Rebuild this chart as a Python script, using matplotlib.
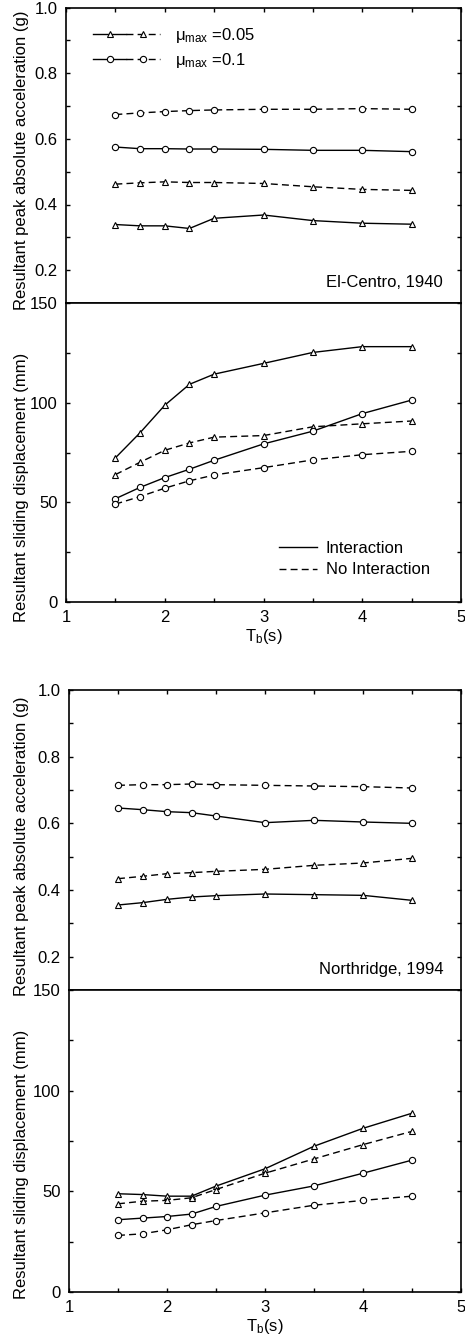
import matplotlib
matplotlib.use("Agg")
import matplotlib.pyplot as plt
from matplotlib.lines import Line2D
from matplotlib.legend_handler import HandlerTuple
from matplotlib.ticker import MultipleLocator

plt.rcParams['font.family'] = ['Liberation Sans', 'DejaVu Sans']
plt.rcParams['mathtext.fontset'] = 'custom'
plt.rcParams['mathtext.rm'] = 'Liberation Sans'
plt.rcParams['mathtext.it'] = 'Liberation Sans:italic'
plt.rcParams['mathtext.bf'] = 'Liberation Sans:bold'

# ---------------- data ----------------
Tb = [1.5, 1.75, 2.0, 2.25, 2.5, 3.0, 3.5, 4.0, 4.5]

# El-Centro 1940 : peak absolute acceleration (g)
ec_acc_tri_int = [0.339, 0.335, 0.335, 0.327, 0.358, 0.368, 0.351, 0.343, 0.340]
ec_acc_tri_noint = [0.462, 0.466, 0.469, 0.467, 0.467, 0.464, 0.454, 0.446, 0.443]
ec_acc_cir_int = [0.575, 0.570, 0.570, 0.569, 0.569, 0.568, 0.565, 0.565, 0.561]
ec_acc_cir_noint = [0.674, 0.679, 0.683, 0.686, 0.688, 0.690, 0.690, 0.692, 0.690]

# El-Centro 1940 : sliding displacement (mm)
ec_dis_tri_int = [72.3, 84.9, 98.7, 109.2, 114.3, 119.7, 125.2, 128.1, 128.1]
ec_dis_tri_noint = [63.9, 70.1, 76.1, 79.8, 82.7, 83.5, 87.9, 89.4, 90.8]
ec_dis_cir_int = [51.8, 57.5, 62.4, 66.6, 71.1, 79.3, 85.7, 94.5, 101.3]
ec_dis_cir_noint = [49.1, 52.9, 57.1, 60.8, 63.7, 67.4, 71.3, 73.9, 75.6]

# Northridge 1994 : peak absolute acceleration (g)
nr_acc_tri_int = [0.355, 0.362, 0.372, 0.379, 0.383, 0.388, 0.386, 0.384, 0.369]
nr_acc_tri_noint = [0.434, 0.441, 0.449, 0.452, 0.456, 0.462, 0.474, 0.481, 0.495]
nr_acc_cir_int = [0.646, 0.641, 0.635, 0.632, 0.622, 0.602, 0.609, 0.604, 0.600]
nr_acc_cir_noint = [0.714, 0.716, 0.716, 0.718, 0.716, 0.714, 0.712, 0.710, 0.706]

# Northridge 1994 : sliding displacement (mm)
nr_dis_tri_int = [48.8, 48.4, 47.6, 47.6, 52.6, 61.2, 72.4, 81.3, 88.8]
nr_dis_tri_noint = [43.8, 45.1, 45.5, 46.8, 50.9, 59.0, 66.1, 73.2, 79.8]
nr_dis_cir_int = [35.9, 36.7, 37.5, 38.7, 42.5, 48.1, 52.7, 59.0, 65.5]
nr_dis_cir_noint = [28.1, 28.9, 30.9, 33.4, 35.5, 39.3, 43.1, 45.5, 47.6]

acc_ticks = [0.2, 0.4, 0.6, 0.8, 1.0]
acc_labels = ['0.2', '0.4', '0.6', '0.8', '1.0']
dis_ticks = [0, 50, 100, 150]
x_ticks = [1, 2, 3, 4, 5]

# ---------------- figure ----------------
W, H = 465, 1335
fig = plt.figure(figsize=(W / 100, H / 100), dpi=100)


def px_axes(x0, x1, ytop, ybot):
    return fig.add_axes([x0 / W, 1 - ybot / H, (x1 - x0) / W, (ybot - ytop) / H])


FS = 12
SOLID = '-'
DASH = (0, (5, 3))
mk = dict(markersize=4.5, markerfacecolor='white', markeredgecolor='black',
          markeredgewidth=0.8, color='black', linewidth=1.0)


def style(ax, top_panel):
    ax.set_xlim(1, 5)
    ax.xaxis.set_major_locator(MultipleLocator(1))
    ax.xaxis.set_minor_locator(MultipleLocator(0.5))
    for s in ax.spines.values():
        s.set_linewidth(1.2)
    ax.tick_params(which='both', direction='in', length=3, width=1,
                   right=True, left=True,
                   top=top_panel, bottom=not top_panel,
                   labelbottom=not top_panel, labelsize=FS, pad=6)


def draw_acc(ax, tri_int, tri_noint, cir_int, cir_noint, label):
    ax.plot(Tb, tri_int, linestyle=SOLID, marker='^', **mk)
    ax.plot(Tb, tri_noint, linestyle=DASH, marker='^', **mk)
    ax.plot(Tb, cir_int, linestyle=SOLID, marker='o', **mk)
    ax.plot(Tb, cir_noint, linestyle=DASH, marker='o', **mk)
    ax.set_ylim(0.1, 1.0)
    ax.set_yticks(acc_ticks)
    ax.set_yticklabels(acc_labels)
    ax.yaxis.set_minor_locator(MultipleLocator(0.1))
    style(ax, True)
    ax.text(0.955, 0.068, label, transform=ax.transAxes, ha='right',
            va='center', fontsize=FS)


def draw_dis(ax, tri_int, tri_noint, cir_int, cir_noint):
    ax.plot(Tb, tri_int, linestyle=SOLID, marker='^', **mk)
    ax.plot(Tb, tri_noint, linestyle=DASH, marker='^', **mk)
    ax.plot(Tb, cir_int, linestyle=SOLID, marker='o', **mk)
    ax.plot(Tb, cir_noint, linestyle=DASH, marker='o', **mk)
    ax.set_ylim(0, 150)
    ax.set_yticks(dis_ticks)
    ax.yaxis.set_minor_locator(MultipleLocator(25))
    ax.set_xticks(x_ticks)
    style(ax, False)
    ax.set_xlabel(r'T$_{\rm b}$(s)', fontsize=FS, labelpad=1)


# Panel 1 : El-Centro
ax1 = px_axes(66, 461, 7.5, 303)
draw_acc(ax1, ec_acc_tri_int, ec_acc_tri_noint, ec_acc_cir_int,
         ec_acc_cir_noint, 'El-Centro, 1940')
ax2 = px_axes(66, 461, 303, 602)
draw_dis(ax2, ec_dis_tri_int, ec_dis_tri_noint, ec_dis_cir_int,
         ec_dis_cir_noint)

# Panel 2 : Northridge
ax3 = px_axes(69, 461, 690, 990)
draw_acc(ax3, nr_acc_tri_int, nr_acc_tri_noint, nr_acc_cir_int,
         nr_acc_cir_noint, 'Northridge, 1994')
ax4 = px_axes(69, 461, 990, 1292)
draw_dis(ax4, nr_dis_tri_int, nr_dis_tri_noint, nr_dis_cir_int,
         nr_dis_cir_noint)

# legends
h_tri = (Line2D([], [], linestyle=SOLID, marker='^', **mk),
         Line2D([], [], linestyle=DASH, marker='^', **mk))
h_cir = (Line2D([], [], linestyle=SOLID, marker='o', **mk),
         Line2D([], [], linestyle=DASH, marker='o', **mk))
ax1.legend([h_tri, h_cir],
           ['μ$_{\\rm max}$ =0.05', 'μ$_{\\rm max}$ =0.1'],
           handler_map={tuple: HandlerTuple(ndivide=None, pad=0)},
           loc='upper left', bbox_to_anchor=(0.068, 0.938), frameon=False,
           borderpad=0, borderaxespad=0, handlelength=4.0, handletextpad=0.9,
           labelspacing=0.35, numpoints=1, fontsize=FS)

ax2.legend([Line2D([], [], color='black', lw=1.0, linestyle=SOLID),
            Line2D([], [], color='black', lw=1.0, linestyle=DASH)],
           ['Interaction', 'No Interaction'],
           loc='upper left', bbox_to_anchor=(0.539, 0.205), frameon=False,
           borderpad=0, borderaxespad=0, handlelength=2.3, handletextpad=0.5,
           labelspacing=0.4, fontsize=FS)

# y labels
fig.text(22 / W, 1 - 160 / H, 'Resultant peak absolute acceleration (g)',
         rotation=90, ha='center', va='center', fontsize=FS)
fig.text(22 / W, 1 - 487 / H, 'Resultant sliding displacement (mm)',
         rotation=90, ha='center', va='center', fontsize=FS)
fig.text(22 / W, 1 - 846 / H, 'Resultant peak absolute acceleration (g)',
         rotation=90, ha='center', va='center', fontsize=FS)
fig.text(22 / W, 1 - 1164 / H, 'Resultant sliding displacement (mm)',
         rotation=90, ha='center', va='center', fontsize=FS)

fig.savefig('out.png', dpi=100)
